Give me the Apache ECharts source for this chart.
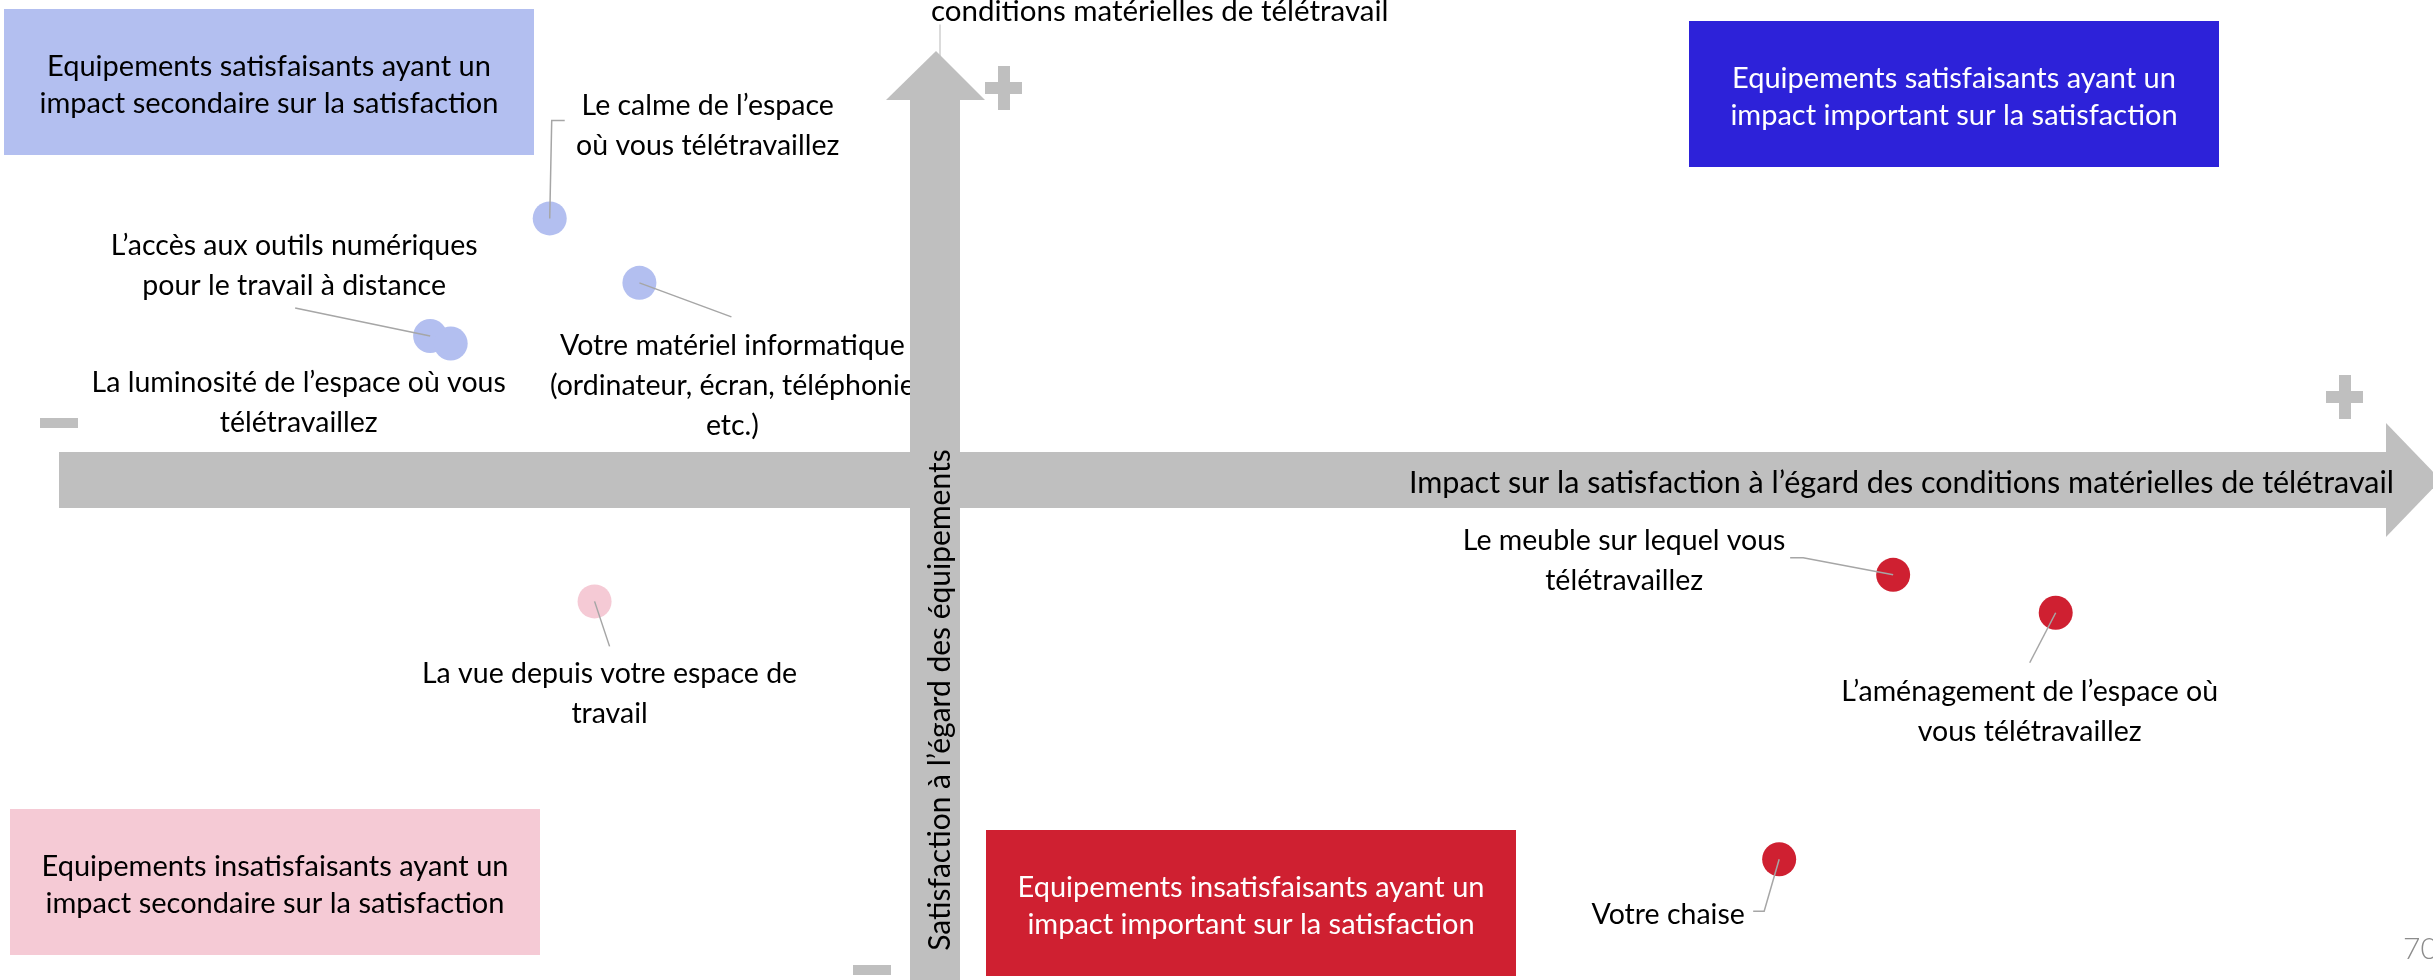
<!DOCTYPE html>
<html>
<head>
<meta charset="utf-8">
<script src="https://cdn.jsdelivr.net/npm/echarts@6/dist/echarts.min.js"></script>
<style>
  html, body { margin: 0; padding: 0; background: #fff; }
  #chart { width: 2433px; height: 980px; }
</style>
</head>
<body>
<div id="chart"></div>
<script>
// equipements (libellés des points)
var items = [
  "Le calme de l’espace\noù vous télétravaillez",
  "Votre matériel informatique\n(ordinateur, écran, téléphonie\netc.)",
  "L’accès aux outils numériques\npour le travail à distance",
  "La luminosité de l’espace où vous\ntélétravaillez",
  "La vue depuis votre espace de\ntravail",
  "Le meuble sur lequel vous\ntélétravaillez",
  "L’aménagement de l’espace où\nvous télétravaillez",
  "Votre chaise"
];
// impact sur la satisfaction (axe horizontal)
var impact = [-0.209, -0.161, -0.273, -0.262, -0.185, 0.510, 0.597, 0.449];
// satisfaction à l'égard des équipements (axe vertical)
var satisfaction = [2.99, 2.82, 2.68, 2.66, 1.98, 2.05, 1.95, 1.30];
// quadrant de chaque point : 0 = satisfaisant/secondaire, 2 = insatisfaisant/secondaire, 3 = insatisfaisant/important
var quadrant = [0, 0, 0, 0, 2, 3, 3, 3];

var quadrantTitles = [
  "Equipements satisfaisants ayant un\nimpact secondaire sur la satisfaction",
  "Equipements satisfaisants ayant un\nimpact important sur la satisfaction",
  "Equipements insatisfaisants ayant un\nimpact secondaire sur la satisfaction",
  "Equipements insatisfaisants ayant un\nimpact important sur la satisfaction"
];
var yTicks = { min: 1, max: 3.5, step: 0.5 };

var xTitle = "Impact sur la satisfaction à l’égard des conditions matérielles de télétravail";
var yTitle = "Satisfaction à l’égard des équipements";
var topTitle = "conditions matérielles de télétravail";
var pageNum = "70";

// styles
var quadColors = ["#B3BFF0", "#2D22D9", "#F5CAD5", "#CF2031"];
var quadTextColors = ["#000", "#fff", "#000", "#fff"];
var quadBoxes = [[4, 9], [1689, 21], [10, 809], [986, 830]];
var boxW = 530, boxH = 146;
var grey = "#BFBFBF";
var font = "Lato, 'Noto Sans', sans-serif";

// position des étiquettes par rapport au point (px)
var labelPos = [
  { dx: 158, dy: -93, line: [[2, -98], [15, -98]] },
  { dx: 93, dy: 103, line: [[92, 34]] },
  { dx: -136, dy: -70, line: [[-135, -28]] },
  { dx: -152, dy: 59, line: [] },
  { dx: 15, dy: 92, line: [[15, 45]] },
  { dx: -269, dy: -14, line: [[-90, -17], [-103, -17]] },
  { dx: -26, dy: 99, line: [[-26, 50]] },
  { dx: -111, dy: 56, line: [[-15, 52], [-26, 52]] }
];

var chart = echarts.init(document.getElementById("chart"));

var points = impact.map(function(x, i) {
  return [x, satisfaction[i]];
});

var graphics = [];
// encadrés des quadrants
quadBoxes.forEach(function(b, i) {
  graphics.push({
    type: "rect", z: 5,
    shape: { x: b[0], y: b[1], width: boxW, height: boxH },
    style: { fill: quadColors[i] }
  });
  graphics.push({
    type: "text", z: 6,
    x: b[0] + boxW / 2, y: b[1] + boxH / 2 + 3,
    style: {
      text: quadrantTitles[i], fill: quadTextColors[i],
      fontSize: 29, fontFamily: font, lineHeight: 37,
      align: "center", verticalAlign: "middle"
    }
  });
});
// flèche horizontale
graphics.push({ type: "rect", z: 10, shape: { x: 59, y: 452, width: 2328, height: 56 }, style: { fill: grey } });
graphics.push({ type: "polygon", z: 10, shape: { points: [[2386, 423], [2441, 480], [2386, 537]] }, style: { fill: grey } });
// flèche verticale
graphics.push({ type: "rect", z: 10, shape: { x: 910, y: 99, width: 50, height: 890 }, style: { fill: grey } });
graphics.push({ type: "polygon", z: 10, shape: { points: [[886, 100], [936, 51], [985, 100]] }, style: { fill: grey } });
// signes + et -
graphics.push({ type: "rect", z: 10, shape: { x: 998, y: 66, width: 12, height: 44 }, style: { fill: grey } });
graphics.push({ type: "rect", z: 10, shape: { x: 985, y: 82, width: 37, height: 12 }, style: { fill: grey } });
graphics.push({ type: "rect", z: 10, shape: { x: 2339, y: 375, width: 12, height: 44 }, style: { fill: grey } });
graphics.push({ type: "rect", z: 10, shape: { x: 2326, y: 391, width: 37, height: 12 }, style: { fill: grey } });
graphics.push({ type: "rect", z: 10, shape: { x: 40, y: 418, width: 38, height: 10 }, style: { fill: grey } });
graphics.push({ type: "rect", z: 10, shape: { x: 853, y: 965, width: 38, height: 10 }, style: { fill: grey } });
// titres des axes
graphics.push({
  type: "text", z: 11, x: 2394, y: 483,
  style: { text: xTitle, fill: "#000", fontSize: 30.5, fontFamily: font, align: "right", verticalAlign: "middle" }
});
graphics.push({
  type: "text", z: 11, x: 940, y: 700, rotation: Math.PI / 2,
  style: { text: yTitle, fill: "#000", fontSize: 30, fontFamily: font, align: "center", verticalAlign: "middle" }
});
graphics.push({
  type: "text", z: 11, x: 931, y: 11,
  style: { text: topTitle, fill: "#000", fontSize: 29.5, fontFamily: font, align: "left", verticalAlign: "middle" }
});
graphics.push({
  type: "text", z: 11, x: 2403, y: 949,
  style: { text: pageNum, fill: "#8C8C8C", fontSize: 30, fontWeight: 300, fontFamily: font, align: "left", verticalAlign: "middle" }
});

var option = {
  backgroundColor: "#fff",
  animation: false,
  grid: { left: 6, top: 25, width: 2429, height: 948, containLabel: false, outerBoundsMode: "none" },
  xAxis: {
    type: "value", min: -0.5, max: 0.8,
    axisLine: { show: false }, axisTick: { show: false },
    axisLabel: { show: false }, splitLine: { show: false }
  },
  yAxis: {
    type: "value", min: yTicks.min, max: yTicks.max, interval: yTicks.step,
    axisLine: { show: true, onZero: true, lineStyle: { color: "#CFCFCF", width: 1.5 } },
    axisTick: { show: false },
    splitLine: { show: false },
    axisLabel: {
      color: "#EEEEEE", fontSize: 18, fontFamily: font, margin: 18,
      formatter: function(v) { return v.toFixed(1); }
    }
  },
  graphic: { elements: graphics },
  series: [
    {
      type: "scatter", z: 2,
      symbolSize: 34,
      data: points,
      itemStyle: {
        opacity: 1,
        color: function(p) { return quadColors[quadrant[p.dataIndex]]; }
      }
    },
    {
      type: "custom", z: 3,
      data: points,
      renderItem: function(params, api) {
        var i = params.dataIndex;
        var p = api.coord([api.value(0), api.value(1)]);
        var L = labelPos[i];
        var children = [];
        if (L.line.length) {
          var pts = [p].concat(L.line.map(function(o) { return [p[0] + o[0], p[1] + o[1]]; }));
          children.push({
            type: "polyline",
            shape: { points: pts },
            style: { stroke: "#A6A6A6", lineWidth: 1.5, fill: null }
          });
        }
        children.push({
          type: "text",
          x: p[0] + L.dx, y: p[1] + L.dy,
          style: {
            text: items[i], fill: "#000",
            fontSize: 28.5, fontFamily: font, lineHeight: 40,
            align: "center", verticalAlign: "middle"
          }
        });
        return { type: "group", children: children };
      }
    }
  ]
};
chart.setOption(option);
</script>
</body>
</html>
